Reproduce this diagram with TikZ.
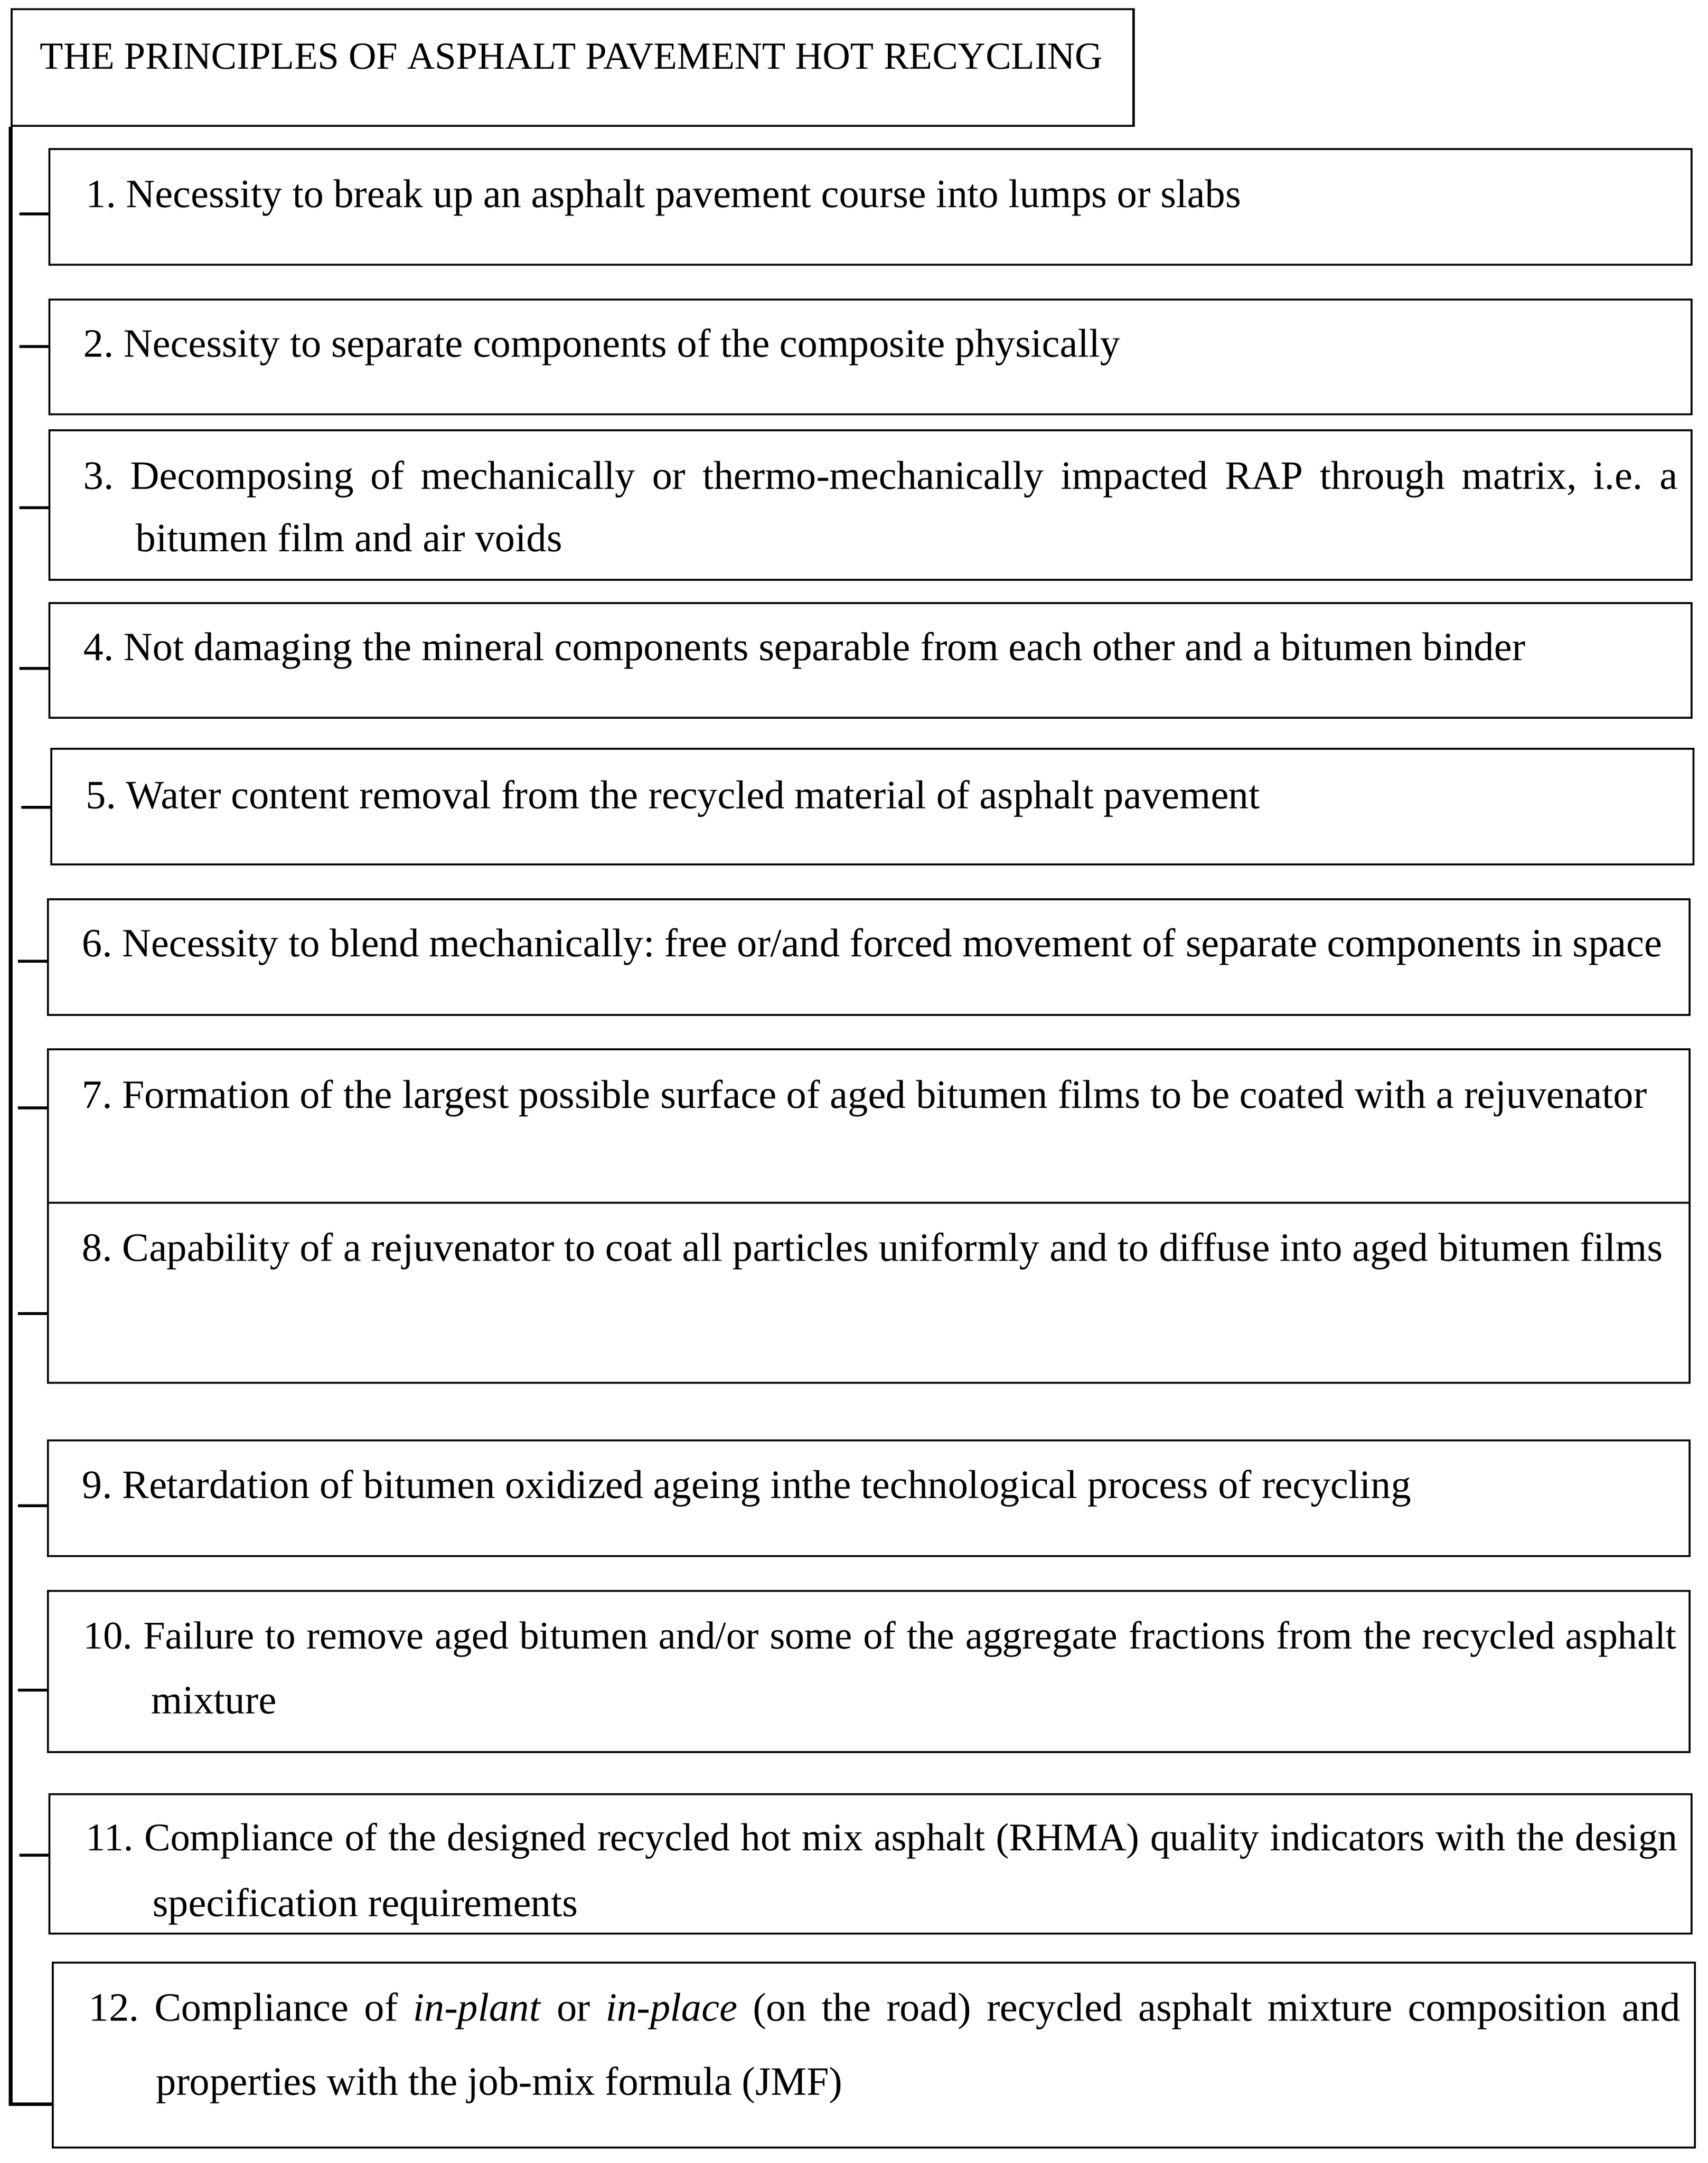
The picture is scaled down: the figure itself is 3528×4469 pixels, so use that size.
\documentclass[tikz,border=0pt]{standalone}
\usepackage{fontspec}
\setmainfont{Liberation Serif}
\usepackage{tikz}
\frenchspacing

\tikzset{
  box/.style={draw, line width=1.2pt, anchor=north west, inner sep=0pt},
  txt/.style={anchor=base west, inner sep=0pt, font=\fontsize{23.6}{27}\selectfont},
  headtxt/.style={txt, font=\fontsize{22.5}{26}\selectfont},
  longtxt/.style={txt, font=\fontsize{23}{27}\selectfont},
  stub/.style={line width=1.6pt},
  trunk/.style={line width=2pt}
}

\begin{document}
\begin{tikzpicture}[x=0.01cm, y=-0.01cm]
\useasboundingbox (0,0) rectangle (3528,4469);

\node[box, minimum width=23.16cm, minimum height=2.41cm] (title) at (22,17) {};
\node[headtxt] (ttitle) at (82,142) {THE PRINCIPLES OF ASPHALT PAVEMENT HOT RECYCLING};

\node[box, minimum width=33.90cm, minimum height=2.39cm] (b1) at (100,306) {};
\node[box, minimum width=33.90cm, minimum height=2.37cm] (b2) at (100,617) {};
\node[box, minimum width=33.90cm, minimum height=3.09cm] (b3) at (100,887) {};
\node[box, minimum width=33.90cm, minimum height=2.37cm] (b4) at (100,1244) {};
\node[box, minimum width=33.90cm, minimum height=2.39cm] (b5) at (104,1545) {};
\node[box, minimum width=33.89cm, minimum height=2.39cm] (b6) at (97,1856) {};
\node[box, minimum width=33.89cm, minimum height=3.17cm] (b7) at (97,2166) {};
\node[box, minimum width=33.89cm, minimum height=3.72cm] (b8) at (97,2483) {};
\node[box, minimum width=33.89cm, minimum height=2.39cm] (b9) at (97,2974) {};
\node[box, minimum width=33.89cm, minimum height=3.33cm] (b10) at (97,3285) {};
\node[box, minimum width=33.90cm, minimum height=2.88cm] (b11) at (100,3705) {};
\node[box, minimum width=33.90cm, minimum height=3.82cm] (b12) at (107,4053) {};

\node[txt] (t1) at (177,428) {1. Necessity to break up an asphalt pavement course into lumps or slabs};
\node[txt] (t2) at (172,737) {2. Necessity to separate components of the composite physically};
\node[txt] (t3) at (172,1010) {\makebox[32.90cm][s]{3. Decomposing of mechanically or thermo-mechanically impacted RAP through matrix, i.e. a}};
\node[txt] (t3b) at (280,1139) {bitumen film and air voids};
\node[txt] (t4) at (172,1364) {4. Not damaging the mineral components separable from each other and a bitumen binder};
\node[txt] (t5) at (177,1670) {5. Water content removal from the recycled material of asphalt pavement};
\node[txt] (t6) at (169,1976) {6. Necessity to blend mechanically: free or/and forced movement of separate components in space};
\node[txt] (t7) at (169,2289) {7. Formation of the largest possible surface of aged bitumen films to be coated with a rejuvenator};
\node[txt] (t8) at (169,2605) {8. Capability of a rejuvenator to coat all particles uniformly and to diffuse into aged bitumen films};
\node[txt] (t9) at (169,3095) {9. Retardation of bitumen oxidized ageing inthe technological process of recycling};
\node[longtxt] (t10) at (172,3406) {\makebox[32.88cm][s]{10. Failure to remove aged bitumen and/or some of the aggregate fractions from the recycled asphalt}};
\node[txt] (t10b) at (312,3540) {mixture};
\node[longtxt] (t11) at (177,3823) {\makebox[32.85cm][s]{11. Compliance of the designed recycled hot mix asphalt (RHMA) quality indicators with the design}};
\node[txt] (t11b) at (315,3959) {specification requirements};
\node[txt] (t12) at (183,4175) {\makebox[32.85cm][s]{12. Compliance of \textit{in-plant} or \textit{in-place} (on the road) recycled asphalt mixture composition and}};
\node[txt] (t12b) at (322,4328) {properties with the job-mix formula (JMF)};

% trunk line on the left
\coordinate (tend) at (22,4347);
\draw[trunk] (title.south west) -- (tend) -- (tend -| b12.west);

\foreach \n/\y in {b1/442, b2/716, b3/1049, b4/1381, b5/1668, b6/1986, b7/2289, b8/2714, b9/3111, b10/3492, b11/3833}
  \draw[stub] (\n.west |- 0,\y) -- ++(-60,0);
\end{tikzpicture}
\end{document}
